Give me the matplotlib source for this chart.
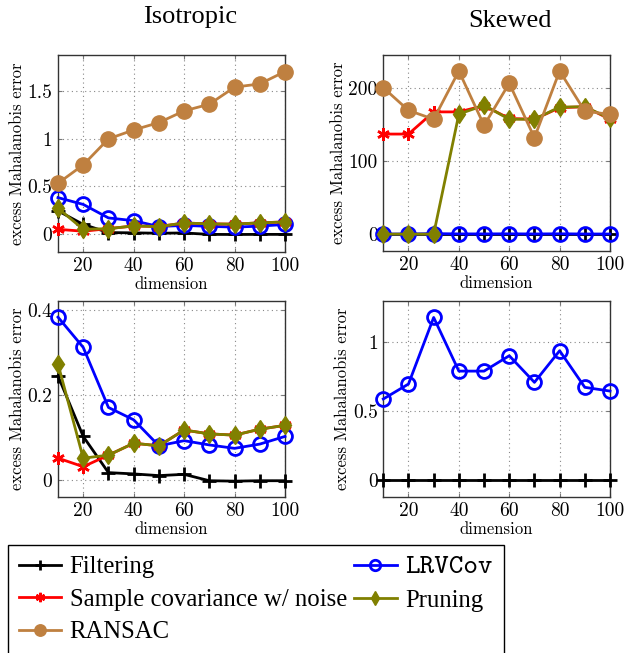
import matplotlib
matplotlib.use("Agg")
import matplotlib.pyplot as plt
from matplotlib.lines import Line2D

dims = [10, 20, 30, 40, 50, 60, 70, 80, 90, 100]

# Isotropic
iso_filtering = [0.245, 0.103, 0.018, 0.015, 0.011, 0.014, -0.001, -0.002, -0.001, -0.001]
iso_lrvcov = [0.383, 0.312, 0.171, 0.142, 0.081, 0.093, 0.083, 0.075, 0.085, 0.103]
iso_samplecov = [0.052, 0.032, 0.059, 0.087, 0.081, 0.118, 0.109, 0.106, 0.120, 0.129]
iso_pruning = [0.273, 0.052, 0.059, 0.087, 0.081, 0.118, 0.109, 0.106, 0.120, 0.129]
iso_ransac = [0.533, 0.725, 0.997, 1.090, 1.167, 1.289, 1.359, 1.537, 1.571, 1.700]

# Skewed
sk_filtering = [0, 0, 0, 0, 0, 0, 0, 0, 0, 0]
sk_lrvcov = [0.587, 0.695, 1.175, 0.788, 0.788, 0.899, 0.707, 0.935, 0.671, 0.644]
sk_samplecov = [136.8, 136.8, 167.0, 167.0, 175.5, 158.0, 157.0, 172.7, 174.0, 157.0]
sk_pruning = [0.5, 0.5, 0.5, 164.0, 176.0, 157.0, 157.0, 173.6, 174.0, 158.0]
sk_ransac = [200.0, 169.0, 157.0, 222.7, 148.6, 206.0, 131.8, 222.7, 168.0, 163.6]

xticks = [20, 40, 60, 80, 100]
xticklabels = ["20", "40", "60", "80", "100"]

names = ["Filtering", "LRVCov", "Sample covariance w/ noise", "Pruning", "RANSAC"]
colors = {"Filtering": "#000000", "LRVCov": "#0000ff",
          "Sample covariance w/ noise": "#ff0000", "Pruning": "#808000",
          "RANSAC": "#bf8040"}
styles = {
    "Filtering": dict(marker="+", markersize=10, markeredgewidth=2.0),
    "LRVCov": dict(marker="o", markersize=10, markeredgewidth=2.0, markerfacecolor="none"),
    "Sample covariance w/ noise": dict(marker=(6, 2, 0), markersize=9, markeredgewidth=1.8),
    "Pruning": dict(marker="d", markersize=9.5, markeredgewidth=1.0),
    "RANSAC": dict(marker="o", markersize=11, markeredgewidth=1.0),
}

W, H = 631, 653
fig = plt.figure(figsize=(W / 100, H / 100), dpi=100)

def ax_at(l, t, r, b):
    return fig.add_axes([l / W, (H - b) / H, (r - l) / W, (b - t) / H])

TICKFONT = dict(family="cmr10", size=14)
LABFONT = dict(family="cmr10", size=12)

def style_axes(ax, ylim, yticks, yticklabels):
    ax.set_xlim(10, 100)
    ax.set_ylim(*ylim)
    ax.set_xticks(xticks)
    ax.set_xticklabels(xticklabels, fontdict=TICKFONT)
    ax.set_yticks(yticks)
    ax.set_yticklabels(yticklabels, fontdict=TICKFONT)
    ax.grid(True, linestyle=(0, (1, 3)), color="#888888", linewidth=0.8)
    ax.set_axisbelow(True)
    ax.tick_params(direction="in", length=3, color="#777777", top=True, right=True, pad=4)
    for s in ax.spines.values():
        s.set_linewidth(1.0)
        s.set_color("#333333")
    ax.set_xlabel("dimension", fontdict=LABFONT, labelpad=1)
    ax.set_ylabel("excess Mahalanobis error", fontdict=LABFONT, labelpad=2)

def plot_series(ax, data, names_to_plot):
    for n in names_to_plot:
        st = dict(styles[n])
        st.setdefault("markerfacecolor", colors[n])
        ax.plot(dims, data[n], color=colors[n], linewidth=2.0, markeredgecolor=colors[n],
                clip_on=False, zorder=3, **st)

iso = {"Filtering": iso_filtering, "LRVCov": iso_lrvcov, "Sample covariance w/ noise": iso_samplecov,
       "Pruning": iso_pruning, "RANSAC": iso_ransac}
sk = {"Filtering": sk_filtering, "LRVCov": sk_lrvcov, "Sample covariance w/ noise": sk_samplecov,
      "Pruning": sk_pruning, "RANSAC": sk_ransac}

ax1 = ax_at(58, 55, 285, 252)
plot_series(ax1, iso, names)
style_axes(ax1, (-0.185, 1.873), [0, 0.5, 1, 1.5], ["0", "0.5", "1", "1.5"])

ax2 = ax_at(383.3, 55, 610, 251)
plot_series(ax2, sk, names)
style_axes(ax2, (-22.5, 244.5), [0, 100, 200], ["0", "100", "200"])

ax3 = ax_at(58, 300.7, 285, 496.7)
plot_series(ax3, iso, ["Filtering", "LRVCov", "Sample covariance w/ noise", "Pruning"])
style_axes(ax3, (-0.0385, 0.4216), [0, 0.2, 0.4], ["0", "0.2", "0.4"])

ax4 = ax_at(383.3, 300.7, 610, 496.7)
plot_series(ax4, sk, ["Filtering", "LRVCov"])
style_axes(ax4, (-0.118, 1.296), [0, 0.5, 1], ["0", "0.5", "1"])

fig.text(190 / W, 1 - 17 / H, "Isotropic", ha="center", va="center",
         family="Liberation Serif", size=19)
fig.text(509.5 / W, 1 - 21 / H, "Skewed", ha="center", va="center",
         family="Liberation Serif", size=19)

order = ["Filtering", "Sample covariance w/ noise", "RANSAC", "LRVCov", "Pruning"]
handles = []
for n in order:
    st = dict(styles[n])
    st.setdefault("markerfacecolor", colors[n])
    st["markersize"] = st["markersize"] * 0.75
    handles.append(Line2D([], [], color=colors[n], linewidth=2.0, markeredgecolor=colors[n], **st))

leg = fig.legend(handles, order, loc="upper left", bbox_to_anchor=(8 / W, 1 - 545 / H),
                 ncol=2, frameon=True, fancybox=False, edgecolor="black", framealpha=1,
                 prop={"family": "Liberation Serif", "size": 17.8},
                 handlelength=1.7, handletextpad=0.35, columnspacing=0.3,
                 labelspacing=0.41, borderpad=0.45, borderaxespad=0)
leg.get_frame().set_linewidth(1.0)
for t in leg.get_texts():
    if t.get_text() == "LRVCov":
        t.set_family("cmtt10")
        t.set_size(20)

fig.savefig("out.png", dpi=100)
